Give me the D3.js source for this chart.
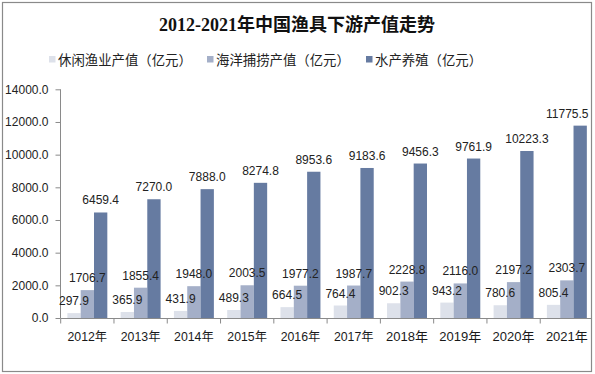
<!DOCTYPE html>
<html><head><meta charset="utf-8">
<script src="https://cdn.jsdelivr.net/npm/d3@7"></script>
<style>
html,body{margin:0;padding:0;background:#fff;}
svg{display:block;}
text{font-family:"Liberation Sans",Arial,"Noto Sans CJK SC",sans-serif;}
</style></head>
<body><svg id="c" width="595" height="374"></svg>
<script>
const title = "2012-2021年中国渔具下游产值走势";
const years = ["2012年","2013年","2014年","2015年","2016年","2017年","2018年","2019年","2020年","2021年"];
const seriesNames = ["休闲渔业产值（亿元）","海洋捕捞产值（亿元）","水产养殖（亿元）"];
const leisure = [297.9,365.9,431.9,489.3,664.5,764.4,902.3,943.2,780.6,805.4];
const marine = [1706.7,1855.4,1948.0,2003.5,1977.2,1987.7,2228.8,2116.0,2197.2,2303.7];
const aquaculture = [6459.4,7270.0,7888.0,8274.8,8953.6,9183.6,9456.3,9761.9,10223.3,11775.5];
const yTicks = [0,2000,4000,6000,8000,10000,12000,14000];
const colors = ["#dde1ea","#a4afc8","#667ba1"];

const svg = d3.select("#c");
const series = [leisure, marine, aquaculture];

// frame
svg.append("rect").attr("x",2.5).attr("y",2.5).attr("width",589).attr("height",369)
  .attr("fill","#fff").attr("stroke","#8a8a8a").attr("stroke-width",1.2);

// title
svg.append("text").attr("x",297).attr("y",31).attr("text-anchor","middle")
  .style("font-family",'"Liberation Serif","DejaVu Serif","Noto Sans CJK SC",serif')
  .style("font-weight","bold").style("font-size","18px").attr("fill","#111").text(title);

// legend
const legX = [49, 207, 366];
seriesNames.forEach((n,i)=>{
  svg.append("rect").attr("x",legX[i]).attr("y",56).attr("width",6.5).attr("height",6.5).attr("fill",colors[i]);
  svg.append("text").attr("x",legX[i]+9).attr("y",64.8)
    .style("font-family",'"Noto Sans CJK SC",sans-serif').style("font-size","13.4px")
    .attr("fill","#222").text(n);
});

const x0 = d3.scaleBand().domain(years).range([60.7, 593.5]).paddingInner(0).paddingOuter(0);
const x1 = d3.scaleBand().domain([0,1,2]).range([0, x0.bandwidth()]).paddingInner(0).paddingOuter(0.5);
const y = d3.scaleLinear().domain([0,14000]).range([318, 89.3]);

// bars
const g = svg.append("g");
years.forEach((yr,ci)=>{
  series.forEach((s,si)=>{
    const v = s[ci];
    g.append("rect").attr("x", x0(yr)+x1(si)).attr("y", y(v))
      .attr("width", x1.bandwidth()).attr("height", y(0)-y(v)).attr("fill", colors[si]);
  });
});

// y axis
const yAxis = d3.axisLeft(y).tickValues(yTicks).tickFormat(d=>d.toFixed(1)).tickSize(5).tickPadding(7);
const ya = svg.append("g").attr("transform","translate(60.5,0)").call(yAxis);
ya.select(".domain").attr("stroke","#8a8a8a").attr("d","M0,89.3V318");
ya.selectAll(".tick line").attr("stroke","#8a8a8a");
ya.selectAll("text").style("font-size","12px").attr("fill","#222")
  .style("font-family",'"Liberation Sans",Arial,sans-serif');

// x axis
const xa = svg.append("g").attr("transform","translate(0,318.5)");
xa.append("line").attr("x1",60.5).attr("x2",591).attr("y1",0).attr("y2",0).attr("stroke","#8a8a8a");
years.forEach((yr,ci)=>{
  xa.append("line").attr("x1",x0(yr)).attr("x2",x0(yr)).attr("y1",0).attr("y2",5).attr("stroke","#8a8a8a");
  xa.append("text").attr("x",x0(yr)+x0.bandwidth()/2).attr("y",22).attr("text-anchor","middle")
    .style("font-size", ci>=6 ? "13px" : "12.3px").attr("fill","#1a1a1a").text(yr);
});

// data labels
const lg = svg.append("g");
years.forEach((yr,ci)=>{
  series.forEach((s,si)=>{
    const v = s[ci];
    const cx = x0(yr)+x1(si)+x1.bandwidth()/2;
    const t = lg.append("text").attr("x",cx).attr("y",y(v)-8).attr("text-anchor","middle")
      .style("font-size","12px").attr("fill","#222").text(v.toFixed(1));
    const w = t.node().getComputedTextLength();
    if (cx + w/2 > 588.5) t.attr("x", 588.5 - w/2);
  });
});
</script></body></html>
